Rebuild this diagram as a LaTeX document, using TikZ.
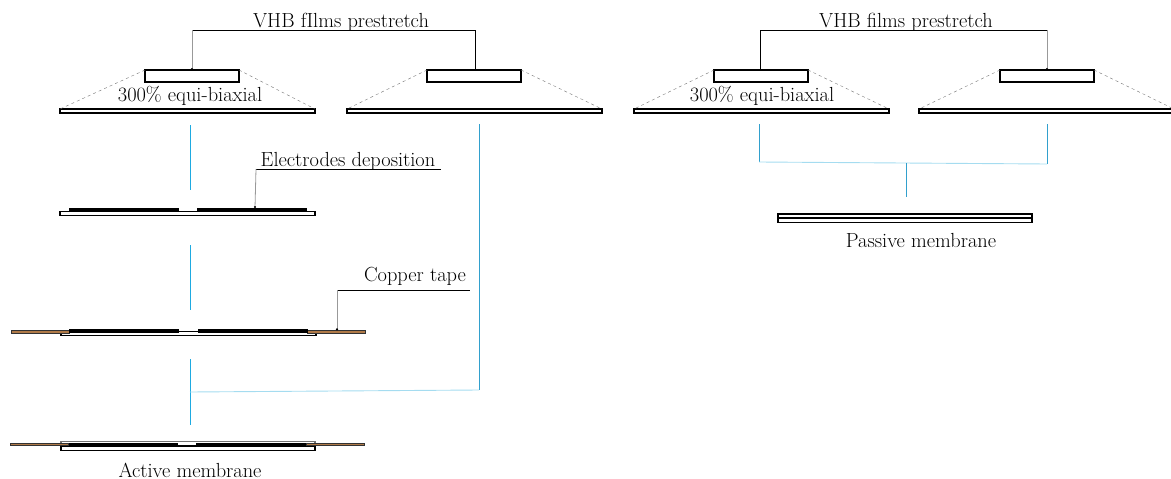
\documentclass[tikz,border=0pt]{standalone}
\usepackage{xcolor}
\usetikzlibrary{arrows.meta}
\definecolor{feedblue}{RGB}{30,170,225}
\definecolor{dropblue}{RGB}{50,160,205}
\definecolor{paleblue}{RGB}{165,220,240}
\definecolor{copper}{RGB}{176,122,72}
\tikzset{
  film/.style={draw, line width=1.6pt, fill=white, minimum width=254.5pt, minimum height=4.2pt, inner sep=0pt, outer sep=0pt},
  frame/.style={draw, line width=1.05pt, fill=white, minimum width=94pt, minimum height=12pt, inner sep=0pt, outer sep=0pt},
  electrode/.style={fill=black, minimum width=110pt, minimum height=4pt, inner sep=0pt, outer sep=0pt},
  tape/.style={draw=black!80, line width=0.6pt, fill=copper, minimum width=58pt, minimum height=2.6pt, inner sep=0pt, outer sep=0pt},
  label/.style={font=\fontsize{20.4}{24}\selectfont, inner sep=0pt},
  leader/.style={line width=0.9pt},
  faded/.style={line width=0.8pt, black!40, -{Circle[black, length=2pt]}},
  stretch/.style={dash pattern=on 3pt off 3pt, line width=0.4pt, black!55},
  feed/.style={line width=0.9pt, feedblue},
  pale/.style={line width=0.9pt, paleblue},
  drop/.style={line width=0.9pt, dropblue},
}
\begin{document}
\begin{tikzpicture}[x=1pt, y=-1pt]
    \useasboundingbox (0,0) rectangle (1171,479);
    % prestretch, left pair
    \node[frame] (frameA) at (192,76) {};
    \node[frame] (frameB) at (474,76) {};
    \node[film] (filmA) at (187.5,111) {};
    \node[film] (filmB) at (474.5,111) {};
    % prestretch, right pair
    \node[frame] (frameC) at (761,76) {};
    \node[frame] (frameD) at (1047,76) {};
    \node[film] (filmC) at (761.5,111) {};
    \node[film] (filmD) at (1046.5,111) {};
    \foreach \f/\b in {frameA/filmA, frameB/filmB, frameC/filmC, frameD/filmD} {
      \draw[stretch] (\f.north west) -- (\b.north west);
      \draw[stretch] (\f.north east) -- (\b.north east);
    }
    \node[label] (titleL) at (341,22) {VHB fIlms prestretch};
    \node[label] (titleR) at (906,22) {VHB films prestretch};
    \node[label] (biaxA) at (190,96) {300\% equi-biaxial};
    \node[label] (biaxC) at (762,96) {300\% equi-biaxial};
    \coordinate (topA) at (192,30);
    \coordinate (topB) at (475,30);
    \coordinate (topC) at (760,30);
    \coordinate (topD) at (1047,30);
    \draw[leader] (topA) -- (topB);
    \draw[leader] (topC) -- (topD);
    \draw[faded] (topA) -- (frameA.north);
    \draw[leader] (topB) -- (topB |- frameB.north);
    \draw[leader] (topC) -- (topC |- frameC.north);
    \draw[faded] (topD) -- (frameD.north);
    % electrodes
    \node[film] (filmE) at (187.5,213.5) {};
    \node[electrode] (elecE1) at (123.5,209.5) {};
    \node[electrode] (elecE2) at (252,209.5) {};
    \node[label] (labelE) at (348,161) {Electrodes deposition};
    \coordinate (kneeE) at (256,169);
    \coordinate (endE) at (441,169);
    \coordinate (footE) at (255,208);
    \draw[leader] (kneeE) -- (endE);
    \draw[faded] (kneeE) -- (footE);
    % copper tape
    \node[film] (filmT) at (188.5,333.5) {};
    \node[tape] (tapeT1) at (40,331.7) {};
    \node[tape] (tapeT2) at (336,331.7) {};
    \node[electrode] (elecT1) at (124,331) {};
    \node[electrode] (elecT2) at (253,331) {};
    \node[label] (labelT) at (415,276) {Copper tape};
    \coordinate (kneeT) at (337,290);
    \coordinate (endT) at (470,290);
    \draw[leader] (kneeT) -- (endT);
    \draw[faded] (kneeT) -- (kneeT |- tapeT2.north);
    % active membrane
    \node[film, draw=black!55] (filmU) at (188,443.6) {};
    \node[film] (filmV) at (188,448.2) {};
    \node[electrode] (elecV1) at (123,445) {};
    \node[electrode] (elecV2) at (251,445) {};
    \node[tape] (tapeV1) at (39,444.3) {};
    \node[tape] (tapeV2) at (335,444.3) {};
    \node[label] (labelV) at (190,470) {Active membrane};
    % passive membrane
    \node[film] (filmP) at (905,216) {};
    \node[film] (filmQ) at (905,220.3) {};
    \node[label] (labelP) at (921,241) {Passive membrane};
    % left branch
    \coordinate (feedA) at (190,125);
    \coordinate (feedB) at (190,190);
    \coordinate (feedC) at (190,245);
    \coordinate (feedD) at (190,310);
    \coordinate (feedE) at (190,359);
    \coordinate (feedF) at (190,425);
    \coordinate (joinL) at (190,392);
    \coordinate (joinR) at (479,390);
    \coordinate (startR) at (479,124);
    \draw[feed] (feedA) -- (feedB);
    \draw[feed] (feedC) -- (feedD);
    \draw[feed] (feedE) -- (feedF);
    \draw[pale] (joinL) -- (joinR);
    \draw[drop] (startR) -- (joinR);
    % right branch
    \coordinate (startC) at (759,124);
    \coordinate (startD) at (1047,124);
    \coordinate (kneeC) at (759,162);
    \coordinate (kneeD) at (1047,164);
    \coordinate (joinP) at (906,163);
    \coordinate (endP) at (906,197);
    \draw[drop] (startC) -- (kneeC);
    \draw[drop] (startD) -- (kneeD);
    \draw[pale] (kneeC) -- (kneeD);
    \draw[drop] (joinP) -- (endP);
\end{tikzpicture}
\end{document}
